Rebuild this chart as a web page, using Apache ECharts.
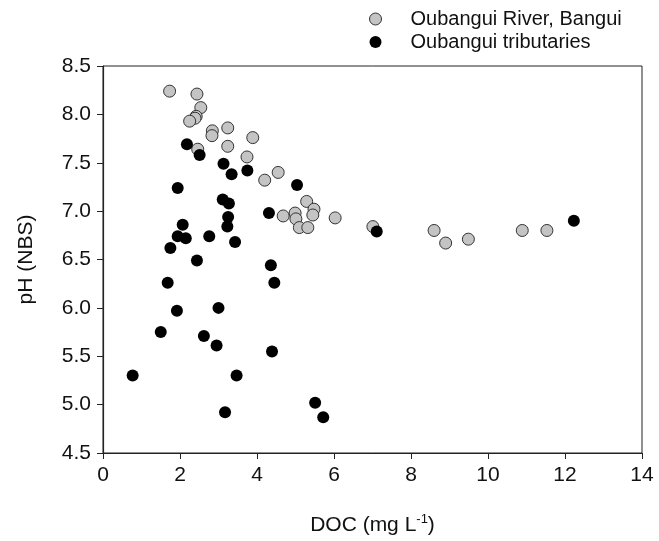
<!DOCTYPE html>
<html>
<head>
<meta charset="utf-8">
<script src="https://cdn.jsdelivr.net/npm/echarts@6/dist/echarts.min.js"></script>
<style>
  html, body { margin: 0; padding: 0; background: #fff; }
  #chart { width: 659px; height: 541px; }
</style>
</head>
<body>
<div id="chart"></div>
<script>
// DOC (mg/L) and pH for the main river at Bangui
const riverDOC = [1.73, 2.44, 2.54, 2.42, 2.39, 2.25, 2.84, 2.83, 3.24, 3.89,
                  2.46, 3.24, 3.74, 4.55, 4.20, 4.68, 5.29, 5.48, 5.45, 4.99,
                  5.01, 5.10, 5.32, 6.03, 7.01, 8.60, 8.90, 9.49, 10.89, 11.53];
const riverPH  = [8.24, 8.21, 8.07, 7.98, 7.96, 7.93, 7.83, 7.78, 7.86, 7.76,
                  7.64, 7.67, 7.56, 7.40, 7.32, 6.95, 7.10, 7.02, 6.96, 6.98,
                  6.92, 6.83, 6.83, 6.93, 6.84, 6.80, 6.67, 6.71, 6.80, 6.80];

// DOC (mg/L) and pH for the tributaries
const tribDOC = [2.18, 2.51, 3.13, 3.34, 3.75, 1.94, 3.11, 3.27, 3.25, 3.23,
                 4.31, 2.07, 1.94, 2.15, 2.76, 3.43, 1.75, 2.44, 4.36, 4.45,
                 1.68, 1.92, 3.00, 1.50, 2.62, 2.95, 4.39, 0.77, 3.47, 3.17,
                 5.51, 5.72, 5.04, 7.11, 12.23];
const tribPH  = [7.69, 7.58, 7.49, 7.38, 7.42, 7.24, 7.12, 7.08, 6.94, 6.84,
                 6.98, 6.86, 6.74, 6.72, 6.74, 6.68, 6.62, 6.49, 6.44, 6.26,
                 6.26, 5.97, 6.00, 5.75, 5.71, 5.61, 5.55, 5.30, 5.30, 4.92,
                 5.02, 4.87, 7.27, 6.79, 6.90];

const seriesNames = ['Oubangui River, Bangui', 'Oubangui tributaries'];

const pairs = (xs, ys) => xs.map((x, i) => [x, ys[i]]);

const FONT = '"Liberation Sans", Arial, sans-serif';
const chart = echarts.init(document.getElementById('chart'), null, { renderer: 'canvas' });

chart.setOption({
  animation: false,
  backgroundColor: '#ffffff',
  textStyle: { fontFamily: FONT, color: '#111' },
  grid: {
    left: 103, top: 66, right: 17, bottom: 88,
    show: true, borderColor: '#222', borderWidth: 1, backgroundColor: 'transparent'
  },
  legend: {
    orient: 'vertical',
    left: 364, top: 4,
    itemWidth: 12, itemHeight: 12, itemGap: 3,
    textStyle: { fontFamily: FONT, fontSize: 20, color: '#111', padding: [0, 0, 0, 24] },
    data: [
      { name: seriesNames[0], icon: 'circle',
        itemStyle: { color: '#c4c4c4', borderColor: '#333', borderWidth: 1 } },
      { name: seriesNames[1], icon: 'circle', itemStyle: { color: '#000' } }
    ]
  },
  xAxis: {
    type: 'value', min: 0, max: 14, interval: 2,
    axisLine: { show: true, onZero: false, lineStyle: { color: '#222', width: 1.2 } },
    axisTick: { show: true, inside: false, length: 6, lineStyle: { color: '#222' } },
    axisLabel: { fontFamily: FONT, fontSize: 21, color: '#111', margin: 12 },
    splitLine: { show: false },
    name: '{a|DOC (mg L}{s|-1}{a|)}',
    nameLocation: 'middle', nameGap: 60,
    nameTextStyle: {
      rich: {
        a: { fontFamily: FONT, fontSize: 21, color: '#111' },
        s: { fontFamily: FONT, fontSize: 13, color: '#111', verticalAlign: 'top', padding: [0, 0, 12, 0] }
      }
    }
  },
  yAxis: {
    type: 'value', min: 4.5, max: 8.5, interval: 0.5,
    axisLine: { show: true, onZero: false, lineStyle: { color: '#222', width: 1.2 } },
    axisTick: { show: true, inside: false, length: 6, lineStyle: { color: '#222' } },
    axisLabel: { fontFamily: FONT, fontSize: 21, color: '#111', margin: 12,
                 formatter: v => v.toFixed(1) },
    splitLine: { show: false },
    name: 'pH (NBS)', nameLocation: 'middle', nameGap: 66,
    nameTextStyle: { fontFamily: FONT, fontSize: 21, color: '#111' }
  },
  series: [
    {
      name: seriesNames[0], type: 'scatter', symbol: 'circle', symbolSize: 12,
      itemStyle: { color: '#c4c4c4', borderColor: '#333', borderWidth: 1, opacity: 1 },
      data: pairs(riverDOC, riverPH), z: 2
    },
    {
      name: seriesNames[1], type: 'scatter', symbol: 'circle', symbolSize: 12,
      itemStyle: { color: '#000', opacity: 1 },
      data: pairs(tribDOC, tribPH), z: 3
    }
  ]
});
</script>
</body>
</html>
